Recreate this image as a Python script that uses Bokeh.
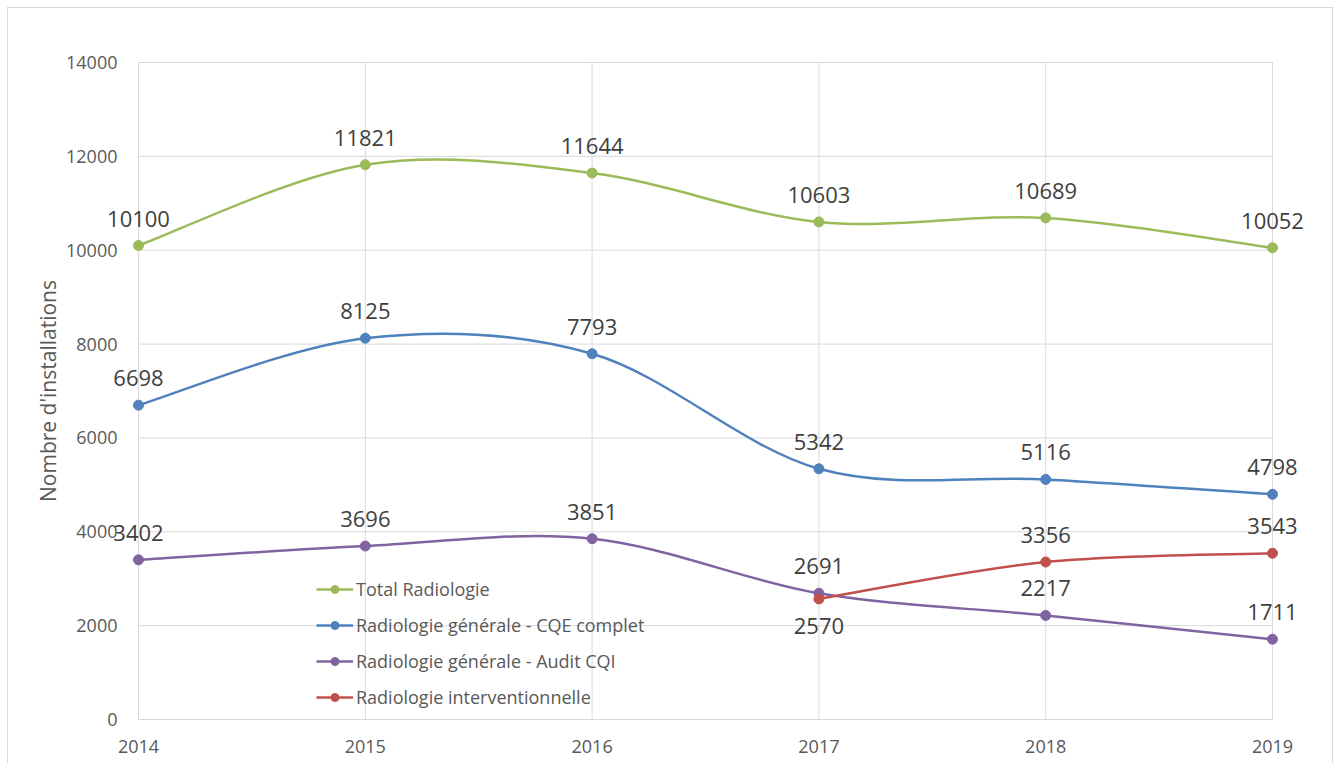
from bokeh.plotting import figure
from bokeh.models import (ColumnDataSource, FixedTicker, Label, Legend,
                          LegendItem, PrintfTickFormatter)
from bokeh.embed import file_html
from bokeh.resources import INLINE

# ---- data ----
years = [2014, 2015, 2016, 2017, 2018, 2019]
total_radiologie = [10100, 11821, 11644, 10603, 10689, 10052]
cqe_complet = [6698, 8125, 7793, 5342, 5116, 4798]
audit_cqi = [3402, 3696, 3851, 2691, 2217, 1711]
interv_years = [2017, 2018, 2019]
interventionnelle = [2570, 3356, 3543]

series_names = [
    "Total Radiologie",
    "Radiologie générale - CQE complet",
    "Radiologie générale - Audit CQI",
    "Radiologie interventionnelle",
]
y_ticks = [0, 2000, 4000, 6000, 8000, 10000, 12000, 14000]

# ---- styles ----
colors = ["#9BBB59", "#4F81BD", "#8064A2", "#C0504D"]
FONT = "Open Sans"
GRID = "#d9d9d9"

# plot-area geometry (pixels): inner chart 1134 x 657, frame padded so the
# edge data labels are not clipped
PAD_X = 40
PAD_Y = 2
inner_w, inner_h = 1134, 657
x_pad = PAD_X * (years[-1] - years[0]) / inner_w
y_pad = PAD_Y * (y_ticks[-1] - y_ticks[0]) / inner_h

p = figure(width=1326, height=756, output_backend="svg", toolbar_location=None,
           x_range=(years[0] - x_pad, years[-1] + x_pad),
           y_range=(y_ticks[0] - y_pad, y_ticks[-1] + y_pad),
           min_border_left=130 - PAD_X, min_border_right=62 - PAD_X,
           min_border_top=54 - PAD_Y, min_border_bottom=45 - PAD_Y)
p.styles = {"border-top": "1px solid #d9d9d9", "border-left": "1px solid #d9d9d9",
            "border-right": "1px solid #d9d9d9",
            "margin-left": "7px", "margin-top": "7px"}
p.outline_line_color = None
p.xgrid.visible = False
p.ygrid.visible = False

p.xaxis.ticker = FixedTicker(ticks=years)
p.yaxis.ticker = FixedTicker(ticks=y_ticks)
p.yaxis.formatter = PrintfTickFormatter(format="%d")
p.xaxis.formatter = PrintfTickFormatter(format="%d")
for ax in (p.xaxis, p.yaxis):
    ax.axis_line_color = None
    ax.major_tick_line_color = None
    ax.minor_tick_line_color = None
    ax.major_label_text_font = FONT
    ax.major_label_text_font_size = "18px"
    ax.major_label_text_color = "#595959"
p.yaxis.major_label_standoff = 15 - PAD_X
p.xaxis.major_label_standoff = 14 - PAD_Y
p.yaxis.axis_label = "Nombre d'installations"
p.yaxis.axis_label_text_font = FONT
p.yaxis.axis_label_text_font_size = "21px"
p.yaxis.axis_label_text_font_style = "normal"
p.yaxis.axis_label_text_color = "#595959"
p.yaxis.axis_label_standoff = 1

# gridlines limited to the chart area
p.segment(x0=years[0], x1=years[-1], y0=y_ticks, y1=y_ticks,
          line_color=GRID, line_width=1)
p.segment(x0=years, x1=years, y0=y_ticks[0], y1=y_ticks[-1],
          line_color=GRID, line_width=1)


def smooth_source(xs, ys):
    """Bezier control points (Catmull-Rom style, like Excel smoothing)."""
    n = len(xs)
    d = dict(x0=[], y0=[], x1=[], y1=[], cx0=[], cy0=[], cx1=[], cy1=[])
    for i in range(n - 1):
        a = i - 1 if i > 0 else i
        b = i + 2 if i + 2 < n else i + 1
        d["x0"].append(xs[i]); d["y0"].append(ys[i])
        d["x1"].append(xs[i + 1]); d["y1"].append(ys[i + 1])
        d["cx0"].append(xs[i] + (xs[i + 1] - xs[a]) / 6)
        d["cy0"].append(ys[i] + (ys[i + 1] - ys[a]) / 6)
        d["cx1"].append(xs[i + 1] - (xs[b] - xs[i]) / 6)
        d["cy1"].append(ys[i + 1] - (ys[b] - ys[i]) / 6)
    return ColumnDataSource(d)


all_series = [
    (years, total_radiologie),
    (years, cqe_complet),
    (years, audit_cqi),
    (interv_years, interventionnelle),
]
# label placement: +above / -below, per point
label_side = [
    [1, 1, 1, 1, 1, 1],
    [1, 1, 1, 1, 1, 1],
    [1, 1, 1, 1, 1, 1],
    [-1, 1, 1],
]

items = []
for (xs, ys), name, col, sides in zip(all_series, series_names, colors, label_side):
    bz = p.bezier(x0="x0", y0="y0", x1="x1", y1="y1", cx0="cx0", cy0="cy0",
                  cx1="cx1", cy1="cy1", source=smooth_source(xs, ys),
                  line_color=col, line_width=2.5)
    src = ColumnDataSource(dict(x=xs, y=ys))
    sc = p.scatter("x", "y", source=src, size=10, color=col)
    items.append(LegendItem(label=name, renderers=[bz, sc]))
    for xv, yv, side in zip(xs, ys, sides):
        p.add_layout(Label(x=xv, y=yv, text=str(yv), y_offset=27 * side,
                           text_align="center", text_baseline="middle",
                           text_font=FONT, text_font_size="22px",
                           text_color="#404040"))

legend = Legend(items=items, location=(178 + PAD_X, 10 + PAD_Y))
legend.background_fill_alpha = 0
legend.border_line_color = None
legend.padding = 0
legend.margin = 0
legend.spacing = 12
legend.glyph_width = 37
legend.glyph_height = 20
legend.label_height = 20
legend.label_standoff = 3
legend.label_text_font = FONT
legend.label_text_font_size = "18px"
legend.label_text_color = "#595959"
p.add_layout(legend)

open("out.html", "w").write(file_html(p, INLINE))
